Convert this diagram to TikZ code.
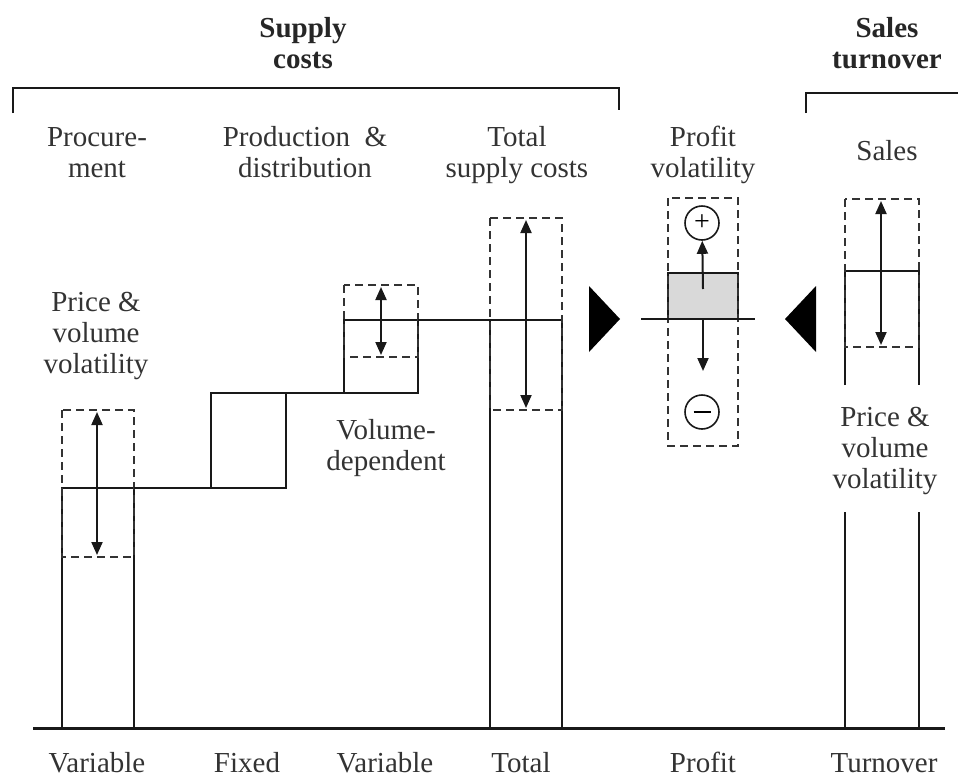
\documentclass[tikz,border=0pt]{standalone}
\usepackage{fontspec}
\setmainfont{Liberation Serif}
\usetikzlibrary{arrows.meta}
\begin{document}
\begin{tikzpicture}[x=1pt,y=-1pt,
  lbl/.style={anchor=base,align=center,inner sep=0pt,text=black!80,
    font=\fontsize{29}{31}\selectfont},
  head/.style={lbl,font=\fontsize{29}{31}\selectfont\bfseries,text=black!85},
  solid line/.style={line width=2.2pt,draw=black!90},
  dash box/.style={line width=2pt,draw=black!80,dash pattern=on 8pt off 5pt},
  vol arrow/.style={line width=2pt,draw=black!90,
    {Triangle[length=13pt,width=11pt]}-{Triangle[length=13pt,width=11pt]}},
  one arrow/.style={line width=2pt,draw=black!90,-{Triangle[length=13pt,width=11pt]}},
  sign/.style={circle,draw=black!90,line width=1.6pt,minimum size=34pt,inner sep=0pt,
    font=\fontsize{28}{28}\selectfont},
  pointer/.style={fill=black}]
\useasboundingbox (0,0) rectangle (958,777);

% brackets and headings (multi-line labels are placed by their last baseline)
\draw[solid line] (13,113) -- (13,88) -- (619,88) -- (619,110);
\draw[solid line] (806,113) -- (806,93) -- (958,93);
\node[head] (supply) at (303,68) {Supply\\costs};
\node[head] (salesto) at (887,68) {Sales\\turnover};

% column headings
\node[lbl] (procure) at (97,177) {Procure-\\ment};
\node[lbl] (prodist) at (305,177) {Production\hspace{0.5em}\&\\distribution};
\node[lbl] (totsup) at (517,177) {Total\\supply costs};
\node[lbl] (profvol) at (703,177) {Profit\\volatility};
\node[lbl] (sales) at (887,160) {Sales};

% baseline
\draw[line width=3pt,draw=black!90] (33,728) -- (945,728);

% procurement: variable costs
\draw[solid line] (62,728) -- (62,488) -- (134,488) -- (134,728);
\draw[dash box] (62,410) rectangle (134,557);
\coordinate (pa) at (97,412);
\coordinate (pb) at (97,555);
\draw[vol arrow] (pa) -- (pb);
\draw[solid line] (134,488) -- (211,488);

% production & distribution: fixed costs
\draw[solid line] (211,488) rectangle (286,393);
\draw[solid line] (286,393) -- (344,393);

% production & distribution: variable costs
\draw[solid line] (344,393) rectangle (418,320);
\draw[dash box] (344,285) rectangle (418,357);
\coordinate (va) at (381,287);
\coordinate (vb) at (381,355);
\draw[vol arrow] (va) -- (vb);
\draw[solid line] (418,320) -- (490,320);

% total supply costs
\draw[solid line] (490,728) -- (490,320) -- (562,320) -- (562,728);
\draw[dash box] (490,218) rectangle (562,410);
\coordinate (ta) at (526,220);
\coordinate (tb) at (526,408);
\draw[vol arrow] (ta) -- (tb);

% pointers towards profit
\fill[pointer] (589,286) -- (620,319) -- (589,352) -- cycle;
\fill[pointer] (816,286) -- (785,319) -- (816,352) -- cycle;

% profit
\fill[black!15] (668,273) rectangle (738,319);
\draw[solid line] (668,319) -- (668,273) -- (738,273) -- (738,319);
\draw[dash box] (668,198) rectangle (738,446);
\draw[solid line] (641,319) -- (755,319);
\node[sign] (plus) at (702,223) {+};
\node[sign] (minus) at (702,412) {\rule[-0.6pt]{17pt}{1.3pt}};
\coordinate (ua) at (703,289);
\coordinate (da) at (703,320);
\coordinate (db) at (703,371);
\draw[one arrow] (ua) -- (plus);
\draw[one arrow] (da) -- (db);

% sales turnover
\draw[solid line] (845,385) -- (845,271) -- (919,271) -- (919,385);
\draw[solid line] (845,512) -- (845,728);
\draw[solid line] (919,512) -- (919,728);
\draw[dash box] (845,199) rectangle (919,347);
\coordinate (sa) at (881,201);
\coordinate (sb) at (881,345);
\draw[vol arrow] (sa) -- (sb);

% volatility notes
\node[lbl] (pvl) at (96,373) {Price \&\\volume\\volatility};
\node[lbl] (voldep) at (386,470) {Volume-\\dependent};
\node[lbl] (pvr) at (885,488) {Price \&\\volume\\volatility};

% bottom labels
\node[lbl] (b1) at (97,772) {Variable};
\node[lbl] (b2) at (247,772) {Fixed};
\node[lbl] (b3) at (385,772) {Variable};
\node[lbl] (b4) at (521,772) {Total};
\node[lbl] (b5) at (703,772) {Profit};
\node[lbl] (b6) at (884,772) {Turnover};
\end{tikzpicture}
\end{document}
